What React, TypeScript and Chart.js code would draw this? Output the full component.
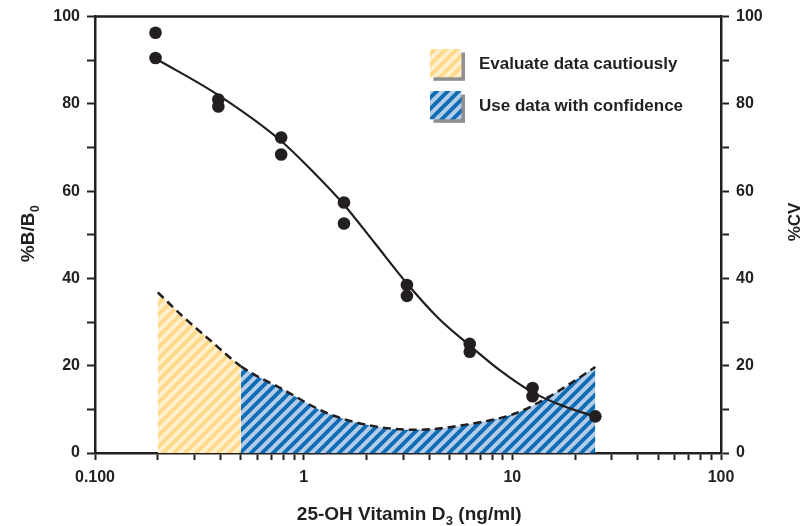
import React, { useEffect, useRef } from "react";
import { Chart, registerables } from "chart.js";

Chart.register(...registerables);

// ---- data ----
const sampleConc = [0.195, 0.195, 0.39, 0.39, 0.78, 0.78, 1.56, 1.56, 3.125, 3.125, 6.25, 6.25, 12.5, 12.5, 25];
const sampleB = [96.3, 90.5, 81.0, 79.4, 72.3, 68.4, 57.4, 52.6, 38.5, 36.0, 25.0, 23.2, 14.9, 13.0, 8.4];

const fitConc = [0.195, 0.39, 0.78, 1.1, 1.56, 2.2, 3.12, 4.4, 6.26, 8.8, 12.5, 17.7, 25];
const fitB = [90.4, 82.0, 71.5, 64.6, 56.9, 48.0, 38.9, 31.0, 24.6, 18.8, 13.9, 10.7, 8.3];

const cvConc = [0.2, 0.265, 0.355, 0.5, 0.8, 1.3, 2.2, 3.45, 6.0, 10.4, 15, 25];
const cvValues = [36.8, 31.2, 25.9, 19.9, 14.5, 9.1, 6.1, 5.3, 6.5, 9.1, 12.9, 19.7];
const cautionLimit = 0.5;

const xMajorTicks = [0.1, 1, 10, 100];
const xMajorLabels = ["0.100", "1", "10", "100"];
const yLabelStep = 20;
const legendLabels = ["Evaluate data cautiously", "Use data with confidence"];
const xTitleParts = ["25-OH Vitamin D", "3", " (ng/ml)"];
const yTitleParts = ["%B/B", "0"];
const y2Title = "%CV";

const INK = "#231f20";
const FONT = "'Liberation Sans', Arial, Helvetica, sans-serif";

function makePattern(ctx: CanvasRenderingContext2D, bg: string, stripe: string, width: number) {
  const s = 11;
  const c = document.createElement("canvas");
  c.width = s;
  c.height = s;
  const g = c.getContext("2d")!;
  g.fillStyle = bg;
  g.fillRect(0, 0, s, s);
  g.strokeStyle = stripe;
  g.lineWidth = width;
  g.beginPath();
  for (const cc of [0, s, 2 * s]) {
    g.moveTo(cc - (s + 3), s + 3);
    g.lineTo(cc + 3, -3);
  }
  g.stroke();
  return ctx.createPattern(c, "repeat")!;
}

export default function App() {
  const ref = useRef<HTMLCanvasElement>(null);

  useEffect(() => {
    const canvas = ref.current!;
    const ctx = canvas.getContext("2d")!;
    const yellowPat = makePattern(ctx, "#fff0cb", "#fed98c", 3.8);
    const bluePat = makePattern(ctx, "#b4cce8", "#0e6db5", 3.8);

    const xTickValues: number[] = [];
    for (let d = 0; d < xMajorTicks.length - 1; d++) {
      for (let m = 1; m <= 9; m++) xTickValues.push(m * xMajorTicks[d]);
    }
    xTickValues.push(xMajorTicks[xMajorTicks.length - 1]);

    const decor = {
      id: "decor",
      afterDraw(chart: any) {
        const c: CanvasRenderingContext2D = chart.ctx;
        const { left, right, top } = chart.chartArea;
        c.save();
        // top frame
        c.strokeStyle = INK;
        c.lineWidth = 2.5;
        c.beginPath();
        c.moveTo(left - 1, top);
        c.lineTo(right + 1, top);
        c.stroke();

        // legend
        const pats = [yellowPat, bluePat];
        const boxTop = [49, 91];
        for (let i = 0; i < 2; i++) {
          c.fillStyle = "#8f8f8f";
          c.fillRect(433.5, boxTop[i] + 3.5, 31.5, 28.3);
          c.fillStyle = pats[i];
          c.fillRect(430, boxTop[i], 31.5, 28.3);
          c.fillStyle = INK;
          c.font = `bold 17px ${FONT}`;
          c.textAlign = "left";
          c.textBaseline = "middle";
          c.fillText(legendLabels[i], 479, boxTop[i] + 15);
        }

        // x title with subscript
        c.textBaseline = "alphabetic";
        c.textAlign = "left";
        const mainF = `bold 19px ${FONT}`;
        const subF = `bold 13px ${FONT}`;
        c.font = mainF;
        const w1 = c.measureText(xTitleParts[0]).width;
        const w3 = c.measureText(xTitleParts[2]).width;
        c.font = subF;
        const w2 = c.measureText(xTitleParts[1]).width;
        let x0 = 409 - (w1 + w2 + w3) / 2;
        c.font = mainF;
        c.fillText(xTitleParts[0], x0, 519.5);
        c.font = subF;
        c.fillText(xTitleParts[1], x0 + w1 + 0.5, 525);
        c.font = mainF;
        c.fillText(xTitleParts[2], x0 + w1 + w2 + 0.5, 519.5);

        // left title
        c.save();
        c.translate(33.5, 234);
        c.rotate(-Math.PI / 2);
        c.font = mainF;
        const lw1 = c.measureText(yTitleParts[0]).width;
        c.font = `bold 12px ${FONT}`;
        const lw2 = c.measureText(yTitleParts[1]).width;
        const lx = -(lw1 + lw2) / 2;
        c.font = mainF;
        c.fillText(yTitleParts[0], lx, 0);
        c.font = `bold 12px ${FONT}`;
        c.fillText(yTitleParts[1], lx + lw1 + 0.5, 5);
        c.restore();

        // right title
        c.save();
        c.translate(800, 222);
        c.rotate(-Math.PI / 2);
        c.font = `bold 17px ${FONT}`;
        c.textAlign = "center";
        c.fillText(y2Title, 0, 0);
        c.restore();

        c.restore();
      },
    };

    const tickFont = { family: FONT, size: 16, weight: "bold" as const };

    const chart = new Chart(canvas, {
      type: "line",
      data: {
        datasets: [
          {
            type: "scatter",
            data: sampleConc.map((x, i) => ({ x, y: sampleB[i] })),
            pointRadius: 6.3,
            pointBackgroundColor: INK,
            pointBorderWidth: 0,
            showLine: false,
            yAxisID: "y",
            order: 0,
            clip: false,
          } as any,
          {
            type: "line",
            data: fitConc.map((x, i) => ({ x, y: fitB[i] })),
            borderColor: INK,
            borderWidth: 2.2,
            pointRadius: 0,
            cubicInterpolationMode: "monotone",
            fill: false,
            yAxisID: "y",
            order: 1,
          },
          {
            type: "line",
            data: cvConc.map((x, i) => ({ x, y: cvValues[i] })),
            borderColor: INK,
            borderWidth: 2.5,
            borderDash: [8, 5],
            pointRadius: 0,
            cubicInterpolationMode: "monotone",
            fill: "origin",
            backgroundColor: bluePat,
            segment: {
              backgroundColor: (sctx: any) => (sctx.p0.parsed.x < cautionLimit - 1e-9 ? yellowPat : bluePat),
            },
            yAxisID: "y2",
            order: 2,
          } as any,
        ],
      },
      options: {
        responsive: false,
        animation: false,
        devicePixelRatio: 1,
        layout: { padding: { top: 16, left: 0, right: 0, bottom: 0 } },
        plugins: { legend: { display: false }, tooltip: { enabled: false } },
        scales: {
          x: {
            type: "logarithmic",
            position: "bottom",
            min: 0.1,
            max: 100,
            afterBuildTicks: (axis: any) => {
              axis.ticks = xTickValues.map((v) => ({ value: v }));
            },
            afterFit: (axis: any) => {
              axis.height = 73;
            },
            ticks: {
              autoSkip: false,
              maxRotation: 0,
              padding: 8,
              color: INK,
              font: tickFont,
              callback: (value: any) => {
                const i = xMajorTicks.findIndex((m) => Math.abs(m - Number(value)) < 1e-9);
                return i >= 0 ? xMajorLabels[i] : "";
              },
            },
            grid: { drawOnChartArea: false, drawTicks: true, tickLength: 7, tickWidth: 2, tickColor: INK },
            border: { display: true, color: INK, width: 2.5 },
          },
          y: {
            type: "linear",
            position: "left",
            min: 0,
            max: 100,
            afterFit: (axis: any) => {
              axis.width = 95;
            },
            ticks: {
              stepSize: 10,
              padding: 7,
              color: INK,
              font: tickFont,
              callback: (v: any) => (Number(v) % yLabelStep === 0 ? String(v) : ""),
            },
            grid: { drawOnChartArea: false, drawTicks: true, tickLength: 8, tickWidth: 2, tickColor: INK },
            border: { display: true, color: INK, width: 2.5 },
          },
          y2: {
            type: "linear",
            position: "right",
            min: 0,
            max: 100,
            afterFit: (axis: any) => {
              axis.width = 82;
            },
            ticks: {
              stepSize: 10,
              padding: 7,
              color: INK,
              font: tickFont,
              callback: (v: any) => (Number(v) % yLabelStep === 0 ? String(v) : ""),
            },
            grid: { drawOnChartArea: false, drawTicks: true, tickLength: 8, tickWidth: 2, tickColor: INK },
            border: { display: true, color: INK, width: 2.5 },
          },
        },
      },
      plugins: [decor],
    });

    return () => chart.destroy();
  }, []);

  return (
    <div style={{ position: "fixed", left: 0, top: 0, width: 803, height: 526, background: "#fff" }}>
      <canvas ref={ref} width={803} height={526} style={{ display: "block" }} />
    </div>
  );
}
